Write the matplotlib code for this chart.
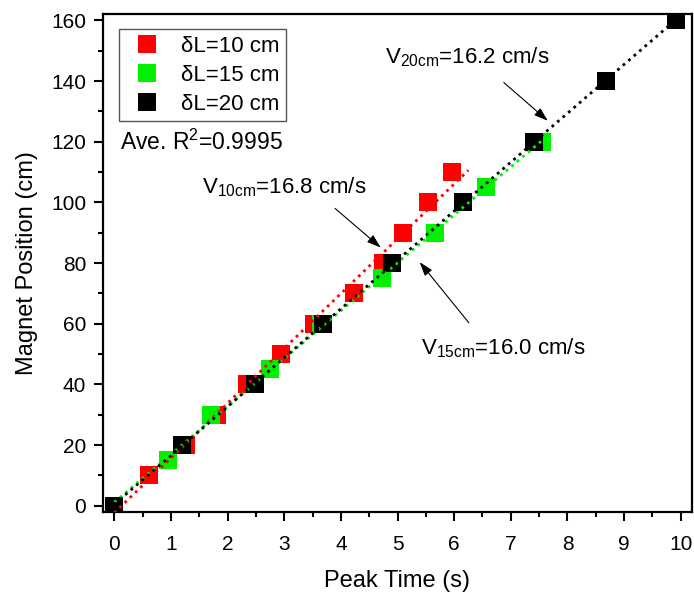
import matplotlib
matplotlib.use("Agg")
import matplotlib.pyplot as plt
from matplotlib.ticker import MultipleLocator
import numpy as np

plt.rcParams['font.family'] = ['Liberation Sans', 'DejaVu Sans']
plt.rcParams['mathtext.fontset'] = 'custom'
plt.rcParams['mathtext.rm'] = 'Liberation Sans'
plt.rcParams['mathtext.it'] = 'Liberation Sans'

# peak times (s) and magnet positions (cm)
t10 = [0, 0.62, 1.26, 1.82, 2.35, 2.94, 3.53, 4.23, 4.75, 5.10, 5.53, 5.96]
y10 = [0, 10, 20, 30, 40, 50, 60, 70, 80, 90, 100, 110]
t15 = [0, 0.95, 1.70, 2.75, 3.65, 4.72, 5.67, 6.56, 7.55]
y15 = [0, 15, 30, 45, 60, 75, 90, 105, 120]
t20 = [0, 1.19, 2.48, 3.69, 4.91, 6.15, 7.41, 8.68, 9.92]
y20 = [0, 20, 40, 60, 80, 100, 120, 140, 160]

labels = ['\u03b4L=10 cm', '\u03b4L=15 cm', '\u03b4L=20 cm']
colors = ['#ff0000', '#00f000', '#000000']
speeds = ['16.8', '16.0', '16.2']

fig = plt.figure(figsize=(6.94, 5.93), dpi=100)
ax = fig.add_axes([0.148, 0.136, 0.8484, 0.8404])

series = [(t10, y10), (t15, y15), (t20, y20)]
for (t, y), c, lab in zip(series, colors, labels):
    ax.plot(t, y, 's', color=c, ms=13, mew=0, label=lab, zorder=2)

ends = [6.25, 7.6, 9.95]
for (t, y), c, xe in zip(series, colors, ends):
    k, b = np.polyfit(t, y, 1)
    xx = np.array([0, xe])
    ax.plot(xx, k * xx + b, color=c, lw=2, ls=(0, (1, 1.6)), zorder=3)

ax.set_xlim(-0.205, 10.19)
ax.set_ylim(-2.2, 162.1)
ax.xaxis.set_major_locator(MultipleLocator(1))
ax.xaxis.set_minor_locator(MultipleLocator(0.5))
ax.yaxis.set_major_locator(MultipleLocator(20))
ax.yaxis.set_minor_locator(MultipleLocator(10))
ax.tick_params(which='major', direction='out', length=6.5, width=1.5, labelsize=15)
ax.tick_params(which='minor', direction='out', length=3.5, width=1.5)
ax.tick_params(axis='x', which='major', pad=10)
ax.tick_params(axis='y', which='major', pad=5.5)
for s in ax.spines.values():
    s.set_linewidth(1.6)

ax.set_xlabel('Peak Time (s)', fontsize=17, labelpad=11)
ax.set_ylabel('Magnet Position (cm)', fontsize=17, labelpad=9)

leg = ax.legend(loc='upper left', bbox_to_anchor=(0.0277, 0.970), borderaxespad=0,
                fontsize=16, fancybox=False, edgecolor='#555555', framealpha=1,
                handlelength=1.94, handletextpad=0.56, labelspacing=0.36,
                borderpad=0.3, numpoints=1)
leg.get_frame().set_linewidth(1.0)

ax.text(0.10, 117.3, r'Ave. R$^2$=0.9995', fontsize=16.5, ha='left', va='baseline')

ann = [
    (r'V$_{\mathrm{10cm}}$=' + speeds[0] + ' cm/s', (1.54, 103.0), (3.86, 98.6), (4.74, 84.5)),
    (r'V$_{\mathrm{15cm}}$=' + speeds[1] + ' cm/s', (5.42, 49.9), (6.29, 59.6), (5.36, 81.0)),
    (r'V$_{\mathrm{20cm}}$=' + speeds[2] + ' cm/s', (4.78, 145.9), (6.84, 140.1), (7.69, 126.3)),
]
for txt, pos, a0, a1 in ann:
    ax.text(pos[0], pos[1], txt, fontsize=16, ha='left', va='baseline')
    ax.annotate('', xy=a1, xytext=a0,
                arrowprops=dict(arrowstyle='-|>,head_length=0.6,head_width=0.2',
                                color='k', lw=0.8, mutation_scale=14))

fig.savefig('out.png', dpi=100)
